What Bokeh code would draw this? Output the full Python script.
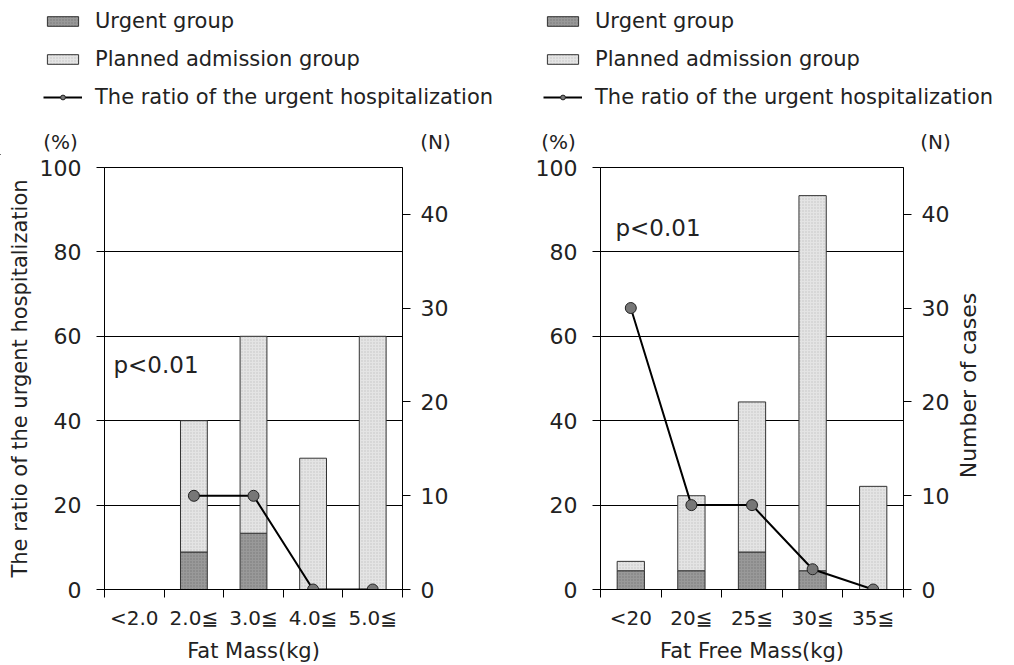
import math
import numpy as np
from bokeh.plotting import figure
from bokeh.models import (Range1d, LinearAxis, FixedTicker, Legend, LegendItem, Label,
                          ColumnDataSource, Grid)
from bokeh.layouts import row, column
from bokeh.embed import file_html
from bokeh.resources import INLINE

FONT = "DejaVu Sans"
TXT = "#222222"
URG_COLOR = "#999999"
PLN_COLOR = "#e4e4e4"
URG_HATCH = "#6a6a6a"
PLN_HATCH = "#b4b4b4"
BAR_LINE = "#333333"
PT_FILL = "#777777"

# ---- data ----
fm_cats = ["<2.0", "2.0≦", "3.0≦", "4.0≦", "5.0≦"]
fm_urgent = [0, 4, 6, 0, 0]
fm_planned = [0, 14, 21, 14, 27]
fm_ratio = [np.nan, 22.2, 22.2, 0.0, 0.0]

ffm_cats = ["<20", "20≦", "25≦", "30≦", "35≦"]
ffm_urgent = [2, 2, 4, 2, 0]
ffm_planned = [1, 8, 16, 40, 11]
ffm_ratio = [66.7, 20.0, 20.0, 4.8, 0.0]

pct_ticks = [0, 20, 40, 60, 80, 100]
n_ticks = [0, 10, 20, 30, 40]
grid_ticks = [20, 40, 60, 80]

legend_labels = ["Urgent group", "Planned admission group", "The ratio of the urgent hospitalization"]

TOP_H = 155
PANEL_H = 665 - TOP_H
SIDE_W = 57

bar_style = dict(fill_color=[URG_COLOR, PLN_COLOR], hatch_pattern="dot",
                 hatch_color=[URG_HATCH, PLN_HATCH], hatch_scale=3, hatch_weight=1,
                 hatch_alpha=0.7, line_color=BAR_LINE, line_width=1)


def make_panel(cats, urgent, planned, ratio, xtitle, ylabel, width, bl, br, p_xy):
    n = len(cats)
    centers = [i + 0.5 for i in range(n)]
    p = figure(width=width, height=PANEL_H, x_range=Range1d(0, n), y_range=Range1d(0, 100),
               output_backend="svg", toolbar_location=None,
               x_axis_location=None, y_axis_location=None,
               min_border_left=bl, min_border_right=br, min_border_top=167 - TOP_H,
               min_border_bottom=76)
    for g in list(p.grid):
        g.visible = False
    p.extra_y_ranges = {"n": Range1d(0, 45)}
    p.outline_line_color = "black"
    p.outline_line_width = 1
    p.background_fill_color = "white"
    p.border_fill_color = "white"

    p.add_layout(Grid(dimension=1, ticker=FixedTicker(ticks=grid_ticks),
                      grid_line_color="black", grid_line_width=1))

    yl = LinearAxis(ticker=FixedTicker(ticks=pct_ticks), major_tick_out=8, major_tick_in=0,
                    minor_tick_out=0, minor_tick_in=0, axis_line_color="black",
                    major_label_text_font=FONT, major_label_text_font_size="22px",
                    major_label_text_color=TXT, major_label_standoff=15)
    if ylabel:
        yl.axis_label = ylabel
        yl.axis_label_text_font = FONT
        yl.axis_label_text_font_size = "21px"
        yl.axis_label_text_font_style = "normal"
        yl.axis_label_text_color = TXT
        yl.axis_label_standoff = 5
    p.add_layout(yl, "left")

    yr = LinearAxis(y_range_name="n", ticker=FixedTicker(ticks=n_ticks), major_tick_out=8,
                    major_tick_in=0, minor_tick_out=0, minor_tick_in=0, axis_line_color="black",
                    major_label_text_font=FONT, major_label_text_font_size="22px",
                    major_label_text_color=TXT, major_label_standoff=10)
    p.add_layout(yr, "right")

    # tick marks at the category boundaries
    xt = LinearAxis(ticker=FixedTicker(ticks=list(range(n + 1))),
                    major_label_overrides={i: "" for i in range(n + 1)},
                    major_tick_out=8, major_tick_in=0, minor_tick_out=0, minor_tick_in=0,
                    axis_line_color="black", major_tick_line_color="black",
                    major_label_text_font_size="1px", major_label_standoff=0)
    p.add_layout(xt, "below")

    # category labels at the centres
    xc = LinearAxis(ticker=FixedTicker(ticks=centers),
                    major_label_overrides={c: lab for c, lab in zip(centers, cats)},
                    major_tick_out=0, major_tick_in=0, minor_tick_out=0, minor_tick_in=0,
                    axis_line_color=None,
                    major_label_text_font=FONT, major_label_text_font_size="20px",
                    major_label_text_color=TXT, major_label_standoff=8,
                    axis_label=xtitle, axis_label_text_font=FONT,
                    axis_label_text_font_size="21px", axis_label_text_font_style="normal",
                    axis_label_text_color=TXT, axis_label_standoff=6)
    p.add_layout(xc, "below")

    src = ColumnDataSource(dict(x=centers, urgent=urgent, planned=planned,
                                ratio=np.array(ratio, dtype=float)))
    p.vbar_stack(["urgent", "planned"], x="x", width=0.45, source=src,
                 y_range_name="n", **bar_style)
    p.line(x="x", y="ratio", source=src, line_color="black", line_width=2)
    p.scatter(x="x", y="ratio", source=src, marker="circle", size=11,
              fill_color=PT_FILL, line_color="#222222", line_width=1)

    p.add_layout(Label(x=p_xy[0], y=p_xy[1], x_units="screen", y_units="screen",
                       text="p<0.01", text_align="left", text_baseline="middle",
                       text_font=FONT, text_font_size="23px", text_color=TXT))
    return p


def blank(width, height):
    f = figure(width=width, height=height, x_range=Range1d(0, width), y_range=Range1d(0, height),
               output_backend="svg", toolbar_location=None,
               x_axis_location=None, y_axis_location=None,
               min_border=0, min_border_left=0, min_border_right=0,
               min_border_top=0, min_border_bottom=0)
    for g in list(f.grid):
        g.visible = False
    f.outline_line_color = None
    f.background_fill_color = "white"
    f.border_fill_color = "white"
    return f


# ---- top strip: legends and unit labels ----
top = blank(1014, TOP_H)
# legend keys (one point placed outside the visible strip)
key = ColumnDataSource(dict(x=[-500], top=[1], y=[-500]))
r_urg = top.vbar(x="x", top="top", width=1, source=key, fill_color=URG_COLOR,
                 hatch_pattern="dot", hatch_color=URG_HATCH, hatch_scale=3, hatch_weight=1,
                 hatch_alpha=0.7, line_color=BAR_LINE, line_width=1)
r_pln = top.vbar(x="x", top="top", width=1, source=key, fill_color=PLN_COLOR,
                 hatch_pattern="dot", hatch_color=PLN_HATCH, hatch_scale=3, hatch_weight=1,
                 hatch_alpha=0.7, line_color=BAR_LINE, line_width=1)
r_ln = top.line(x="x", y="y", source=key, line_color="black", line_width=2)
r_pt = top.scatter(x="x", y="y", source=key, marker="circle", size=9,
                   fill_color=PT_FILL, line_color="#222222", line_width=1)

for lx in (43, 543):
    lg = Legend(items=[LegendItem(label=legend_labels[0], renderers=[r_urg]),
                       LegendItem(label=legend_labels[1], renderers=[r_pln]),
                       LegendItem(label=legend_labels[2], renderers=[r_ln, r_pt])],
                location=(lx, 46), orientation="vertical",
                border_line_color=None, background_fill_alpha=0,
                glyph_width=39, glyph_height=12, label_height=22,
                label_text_font=FONT, label_text_font_size="21px", label_text_color=TXT,
                label_standoff=13, spacing=14, padding=0, margin=0)
    top.add_layout(lg)

for txt, x in (("(%)", 60), ("(N)", 435), ("(%)", 558), ("(N)", 935)):
    top.add_layout(Label(x=x, y=TOP_H - 141, x_units="screen", y_units="screen", text=txt,
                         text_align="center", text_baseline="middle", text_font=FONT,
                         text_font_size="20px", text_color=TXT))

p1 = make_panel(fm_cats, fm_urgent, fm_planned, fm_ratio, "Fat Mass(kg)",
                "The ratio of the urgent hospitalization", 507, 104, 105, (9, 225))
p2 = make_panel(ffm_cats, ffm_urgent, ffm_planned, ffm_ratio, "Fat Free Mass(kg)",
                None, 1014 - 507 - SIDE_W, 93, 1014 - SIDE_W - 903, (15, 362))

# right-hand axis title for the second panel
side = blank(SIDE_W, PANEL_H)
side.add_layout(Label(x=11, y=204, x_units="screen", y_units="screen",
                      text="Number of cases", angle=math.pi / 2, text_align="center",
                      text_baseline="middle", text_font=FONT, text_font_size="22px",
                      text_color=TXT))

layout = column(top, row(p1, p2, side, spacing=0), spacing=0)
open("out.html", "w").write(file_html(layout, INLINE))
